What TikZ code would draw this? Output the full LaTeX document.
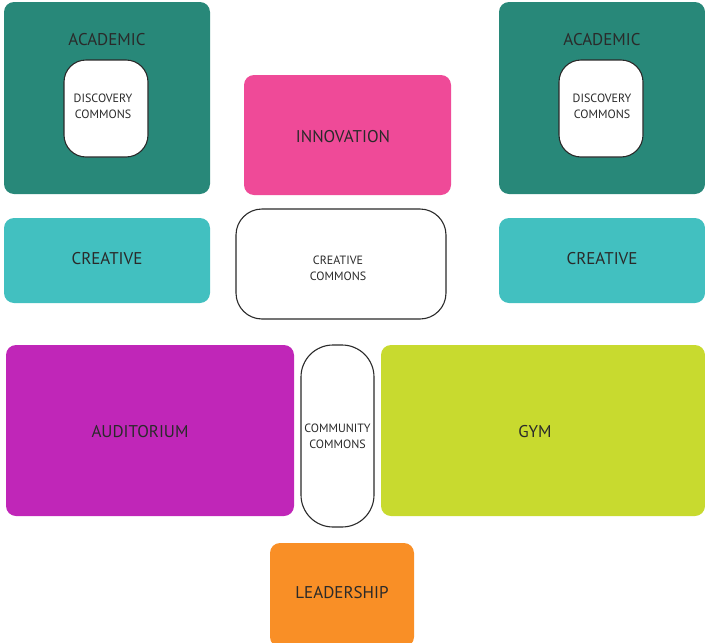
\documentclass[tikz,border=0pt]{standalone}
\usepackage{fontspec}
\setmainfont{PT Sans}
\definecolor{acad}{HTML}{288879}
\definecolor{crea}{HTML}{42C0C0}
\definecolor{innov}{HTML}{EF4A98}
\definecolor{audi}{HTML}{C026B8}
\definecolor{gymc}{HTML}{C8DA2F}
\definecolor{lead}{HTML}{F98F26}
\definecolor{txt}{HTML}{2A2A2A}
\begin{document}
\begin{tikzpicture}[x=1pt,y=-1pt,
  zone/.style={draw=none,rounded corners=10pt,inner sep=0pt,text=txt,font=\fontsize{17}{19}\selectfont},
  commons/.style={draw=txt,line width=1.1pt,fill=white,inner sep=0pt,text=txt,align=center,font=\fontsize{12}{16}\selectfont},
  bigtext/.style={text=txt,font=\fontsize{17}{19}\selectfont,inner sep=0pt}]
\useasboundingbox (0,0) rectangle (705,643);
% Academic left
\node[zone,fill=acad,minimum width=206pt,minimum height=192pt] (acadL) at (107,98) {};
\node[bigtext] (acadLt) at (107,40) {ACADEMIC};
\node[commons,rounded corners=22pt,minimum width=84pt,minimum height=97pt] (discL) at (106,108.5) {};
\node[commons,draw=none,fill=none] (discLt) at (103,106) {DISCOVERY\\COMMONS};
% Academic right
\node[zone,fill=acad,minimum width=206pt,minimum height=192pt] (acadR) at (602,98) {};
\node[bigtext] (acadRt) at (602,40) {ACADEMIC};
\node[commons,rounded corners=22pt,minimum width=84pt,minimum height=97pt] (discR) at (601,108.5) {};
\node[commons,draw=none,fill=none] (discRt) at (602,106) {DISCOVERY\\COMMONS};
% Innovation
\node[zone,fill=innov,minimum width=207pt,minimum height=120pt] (innov) at (347.5,135) {};
\node[bigtext] (innovt) at (343,137) {INNOVATION};
% Creative
\node[zone,fill=crea,minimum width=206pt,minimum height=85pt] (creaL) at (107,260.5) {};
\node[bigtext] (creaLt) at (107,259) {CREATIVE};
\node[zone,fill=crea,minimum width=206pt,minimum height=85pt] (creaR) at (602,260.5) {};
\node[bigtext] (creaRt) at (602,259) {CREATIVE};
\node[commons,rounded corners=26pt,minimum width=210pt,minimum height=110pt] (creaC) at (341,264) {};
\node[commons,draw=none,fill=none] (creaCt) at (338,268) {CREATIVE\\COMMONS};
% Auditorium, community, gym
\node[zone,fill=audi,minimum width=288pt,minimum height=171pt] (audi) at (150,430.5) {};
\node[bigtext] (audit) at (140,432) {AUDITORIUM};
\node[commons,rounded corners=32pt,minimum width=73pt,minimum height=182pt] (comm) at (337.5,436) {};
\node[commons,draw=none,fill=none] (commt) at (337.5,436) {COMMUNITY\\COMMONS};
\node[zone,fill=gymc,minimum width=324pt,minimum height=171pt] (gym) at (543,430.5) {};
\node[bigtext] (gymt) at (535,432) {GYM};
% Leadership
\node[zone,fill=lead,minimum width=144pt,minimum height=104pt] (lead) at (342,595) {};
\node[bigtext] (leadt) at (342,593) {LEADERSHIP};
\end{tikzpicture}
\end{document}
